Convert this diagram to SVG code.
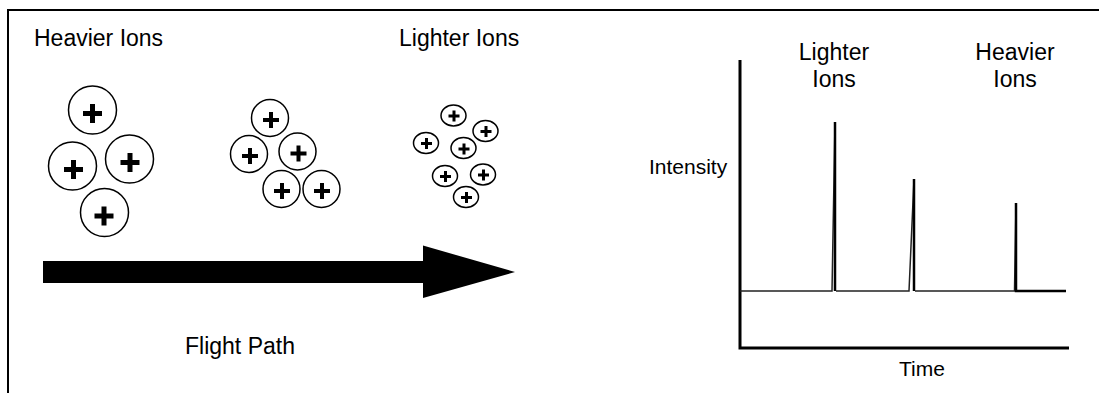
<svg xmlns="http://www.w3.org/2000/svg" width="1099" height="393" viewBox="0 0 1099 393">
<style>
.lbl{font-family:"Liberation Sans",Arial,sans-serif;font-size:23px;fill:#000}
.ax{font-family:"Liberation Sans",Arial,sans-serif;font-size:21px;fill:#000}
.ion{fill:#fff;stroke:#000;stroke-width:1.5}
.pl{stroke:#000;fill:none}
.frame{stroke:#000;stroke-width:2;fill:none}
</style>
<defs>
<path id="plusL" class="pl" d="M-9.5,0H9.5M0,-9.5V9.5" stroke-width="5"/>
<path id="plusM" class="pl" d="M-8,0H8M0,-8V8" stroke-width="4"/>
<path id="plusS" class="pl" d="M-5.5,0H5.5M0,-5.5V5.5" stroke-width="3"/>
</defs>
<rect width="1099" height="393" fill="#fff"/>
<g id="frame">
<path class="frame" d="M8,393V10H1099"/>
</g>
<g id="label-heavier"><text class="lbl" x="34" y="46">Heavier Ions</text></g>
<g id="label-lighter"><text class="lbl" x="399" y="46">Lighter Ions</text></g>
<g id="cluster-heavy">
<circle class="ion" cx="92.5" cy="110" r="24"/><use href="#plusL" x="92.5" y="113.5"/>
<circle class="ion" cx="72.5" cy="166" r="24"/><use href="#plusL" x="73.5" y="169.5"/>
<circle class="ion" cx="129.5" cy="159" r="24"/><use href="#plusL" x="130" y="162.5"/>
<circle class="ion" cx="104.5" cy="212.5" r="24"/><use href="#plusL" x="104" y="216"/>
</g>
<g id="cluster-medium">
<circle class="ion" cx="270" cy="118" r="18.5"/><use href="#plusM" x="271" y="120"/>
<circle class="ion" cx="249" cy="154" r="18.5"/><use href="#plusM" x="250" y="156"/>
<circle class="ion" cx="297.5" cy="151.5" r="18.5"/><use href="#plusM" x="298.5" y="153.5"/>
<circle class="ion" cx="281.5" cy="189" r="18.5"/><use href="#plusM" x="282" y="191"/>
<circle class="ion" cx="321.5" cy="189" r="18.5"/><use href="#plusM" x="322" y="191"/>
</g>
<g id="cluster-light">
<ellipse class="ion" cx="453.5" cy="115.5" rx="12.5" ry="10.5"/><use href="#plusS" x="454" y="116"/>
<ellipse class="ion" cx="485.5" cy="131" rx="12.5" ry="10.5"/><use href="#plusS" x="486" y="131.5"/>
<ellipse class="ion" cx="426" cy="143" rx="12.5" ry="10.5"/><use href="#plusS" x="426.5" y="143.5"/>
<ellipse class="ion" cx="463.5" cy="148" rx="12.5" ry="10.5"/><use href="#plusS" x="464" y="149"/>
<ellipse class="ion" cx="445" cy="176" rx="12.5" ry="10.5"/><use href="#plusS" x="445.5" y="176.5"/>
<ellipse class="ion" cx="483" cy="174.5" rx="12.5" ry="10.5"/><use href="#plusS" x="483.5" y="175"/>
<ellipse class="ion" cx="466" cy="197" rx="12.5" ry="10.5"/><use href="#plusS" x="466.5" y="197.5"/>
</g>
<g id="connectors">
<path id="flight-arrow" d="M43,261H423V245.5L515,272L423,298V283H43Z" fill="#000"/>
</g>
<g id="label-flight"><text class="lbl" x="185" y="354">Flight Path</text></g>
<g id="chart">
<path d="M740,60V348H1069" fill="none" stroke="#000" stroke-width="3"/>
<path d="M740,291H832L835,122" fill="none" stroke="#222" stroke-width="1.5"/>
<path d="M835,122V291" fill="none" stroke="#000" stroke-width="2.5"/>
<path d="M836,291H909L914,179" fill="none" stroke="#222" stroke-width="1.5"/>
<path d="M914,179V291" fill="none" stroke="#000" stroke-width="2.5"/>
<path d="M915,291H1014.5L1016,203" fill="none" stroke="#222" stroke-width="1.5"/>
<path d="M1016,203V291H1066" fill="none" stroke="#000" stroke-width="2.5"/>
<text class="ax" x="649" y="174">Intensity</text>
<text class="ax" x="922" y="376" text-anchor="middle">Time</text>
<text class="lbl" x="834" y="60" text-anchor="middle">Lighter</text>
<text class="lbl" x="834" y="87" text-anchor="middle">Ions</text>
<text class="lbl" x="1015" y="60" text-anchor="middle">Heavier</text>
<text class="lbl" x="1015" y="87" text-anchor="middle">Ions</text>
</g>
</svg>
